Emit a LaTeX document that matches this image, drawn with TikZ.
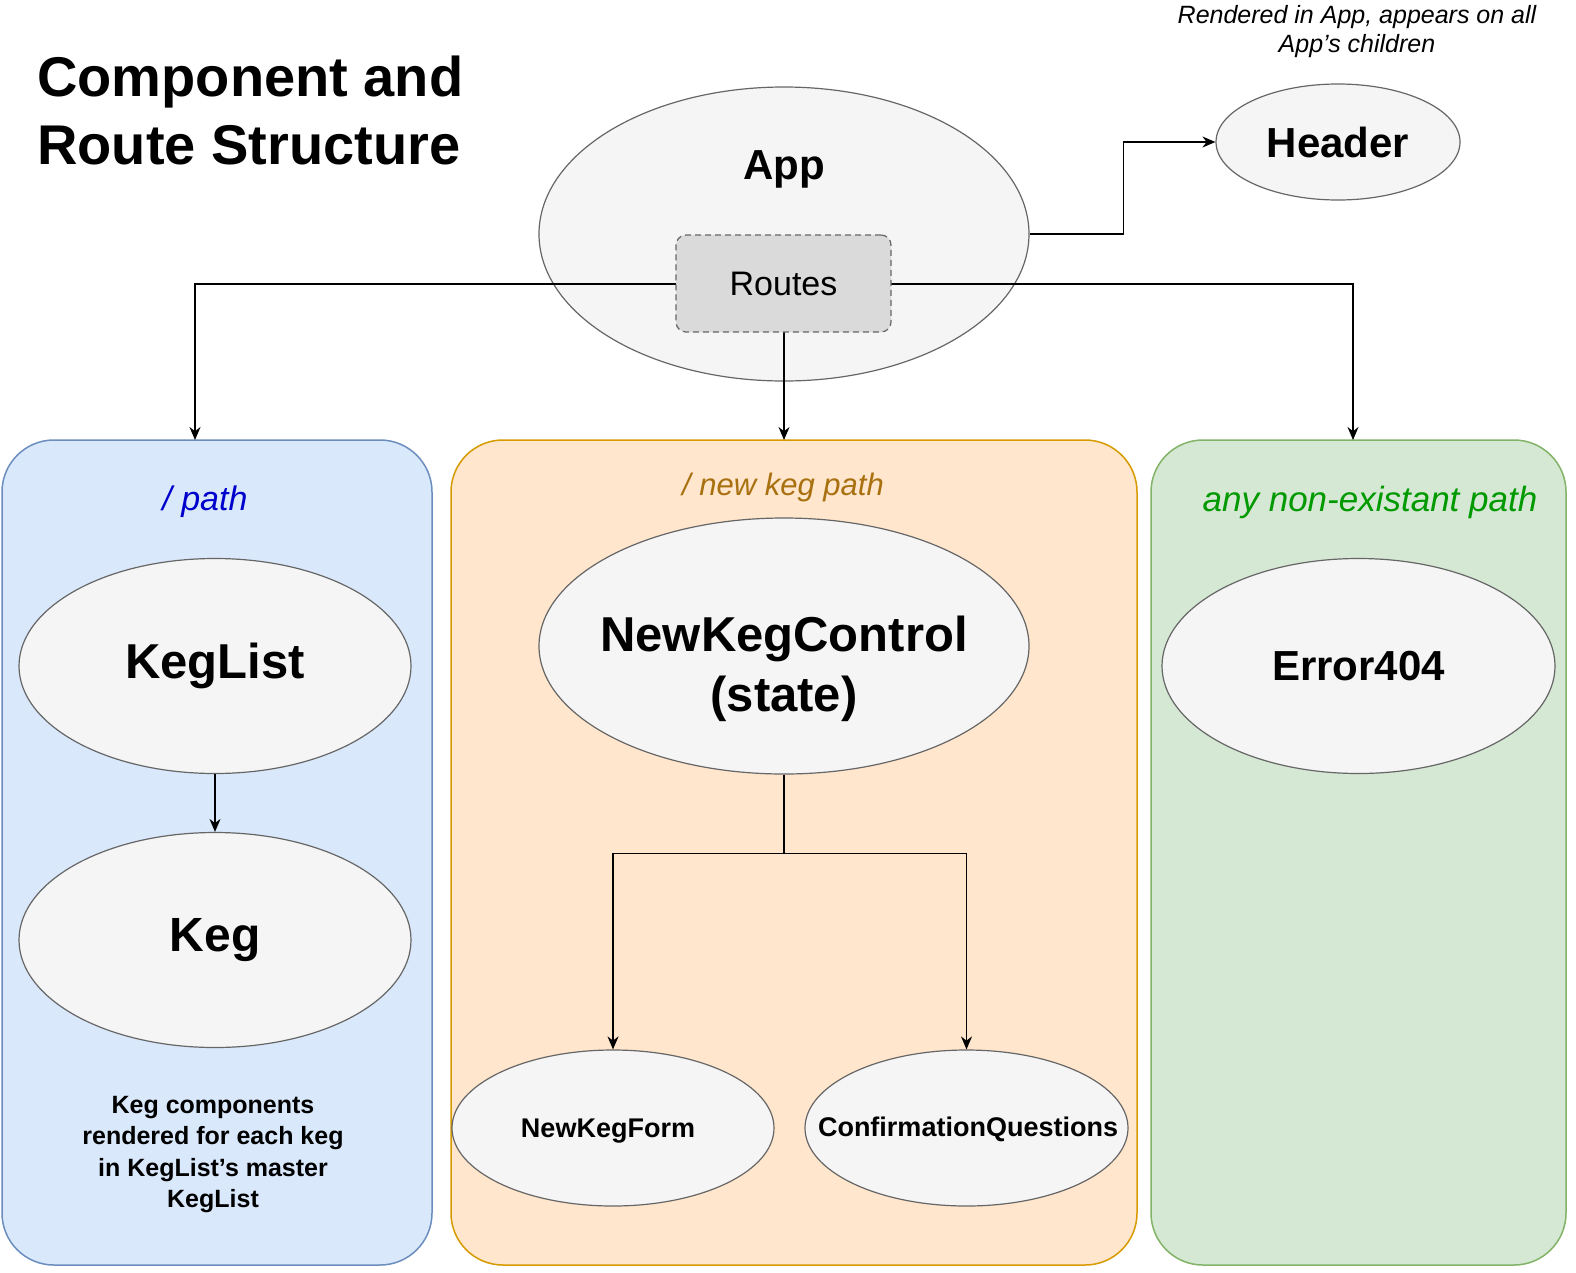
\documentclass[tikz,border=0pt]{standalone}
\usepackage{fontspec}
\setmainfont{Liberation Sans}
\usepackage{tikz}
\usetikzlibrary{positioning,shapes.geometric,arrows.meta}
\definecolor{compfill}{HTML}{F5F5F5}
\definecolor{compline}{HTML}{666666}
\definecolor{routefill}{HTML}{DADADA}
\definecolor{bluefill}{HTML}{DAE8FC}
\definecolor{blueline}{HTML}{6C8EBF}
\definecolor{orangefill}{HTML}{FFE6CC}
\definecolor{orangeline}{HTML}{D79B00}
\definecolor{greenfill}{HTML}{D5E8D4}
\definecolor{greenline}{HTML}{82B366}
\definecolor{bluetext}{HTML}{0000CC}
\definecolor{orangetext}{HTML}{A8700F}
\definecolor{greentext}{HTML}{009900}
\newcommand{\pxfont}[2]{\fontsize{#1}{#2}\selectfont}

\begin{document}
\begin{tikzpicture}[x=1pt, y=-1pt, >={Stealth[length=13pt,width=11pt]},
  comp/.style={ellipse, draw=compline, fill=compfill, line width=1.2pt, inner sep=0pt},
  pathbox/.style={rectangle, rounded corners=52pt, line width=1.5pt, minimum height=825pt, inner sep=0pt},
  wire/.style={line width=1.3pt},
  big/.style={font=\bfseries\pxfont{#1}{#1}},
  pathlabel/.style={font=\itshape\pxfont{#1}{#1}, inner sep=0pt}]

\useasboundingbox (0,0) rectangle (1576,1272);
\fill[white] (0,0) rectangle (1576,1272);

\node[anchor=north west, align=left, inner sep=0pt, font=\bfseries\pxfont{56}{68}] (title) at (37,56)
  {Component and\\Route Structure};
\node[anchor=north, align=center, inner sep=0pt, font=\itshape\pxfont{25}{29}] (headernote) at (1357,5)
  {Rendered in App, appears on all\\App's children};

% the three route boxes
\foreach \n/\cx/\w/\f/\d in {listbox/217/430/bluefill/blueline,
                             newbox/794/686/orangefill/orangeline,
                             errbox/1358.5/415/greenfill/greenline}
  \node[pathbox, fill=\f, draw=\d, minimum width=\w] (\n) at (\cx,852.5) {};

\node[pathlabel=34, text=bluetext] (listpath) at (205,502) {/ path};
\node[pathlabel=31, text=orangetext] (newpath) at (783,487) {/ new keg path};
\node[pathlabel=35, text=greentext] (errpath) at (1370,502) {any non-existant path};

% components
\node[comp, minimum width=490, minimum height=294] (app) at (784,234) {};
\node[big=42] (applabel) at (784,169) {App};
\node[comp, minimum width=244, minimum height=116, big=42] (header) at (1338,142) {Header};

\node[comp, minimum width=392, minimum height=215, big=49] (keglist) at (215,666) {KegList};
\node[comp, minimum width=392, minimum height=215, big=48] (keg) at (215,940) {Keg};
\node[anchor=north, align=center, inner sep=0pt, font=\bfseries\pxfont{25}{31.3}] (kegnote) at (213,1096)
  {Keg components\\rendered for each keg\\in KegList's master\\KegList};

\node[comp, minimum width=490, minimum height=256] (control) at (784,646) {};
\node[align=center, font=\bfseries\pxfont{49}{60}] (controllabel) at (784,669) {NewKegControl\\(state)};
\node[comp, minimum width=322, minimum height=156] (form) at (613,1128) {};
\node[big=27] (formlabel) at (608,1131) {NewKegForm};
\node[comp, minimum width=323, minimum height=156] (confirm) at (966.5,1128) {};
\node[big=27] (confirmlabel) at (968,1129) {ConfirmationQuestions};

\node[comp, minimum width=393, minimum height=215, big=42] (error) at (1358.5,666) {Error404};

% connectors
\coordinate (listin) at (195,440);
\coordinate (newin) at (784,440);
\coordinate (errin) at (1353,440);

\draw[wire, ->] (app.east) -- ++(94,0) |- (header.west);
\draw[wire, ->] (783.5,284) -| (listin);
\draw[wire, ->] (783.5,284) -| (errin);
\draw[wire, ->] (784,300) -- (newin);
\draw[wire, ->] (keglist.south) -- (keg.north);
\draw[wire, ->] (control.south) -- ++(0,79) -| (form.north);
\draw[wire, ->] (control.south) -- ++(0,79) -| (confirm.north);

\node[draw=compline, dash pattern=on 6pt off 4pt, fill=routefill, rounded corners=10pt, line width=1.2pt,
  minimum width=215pt, minimum height=97pt, font=\pxfont{34}{34}] (routes) at (783.5,283.5) {Routes};
\end{tikzpicture}
\end{document}
